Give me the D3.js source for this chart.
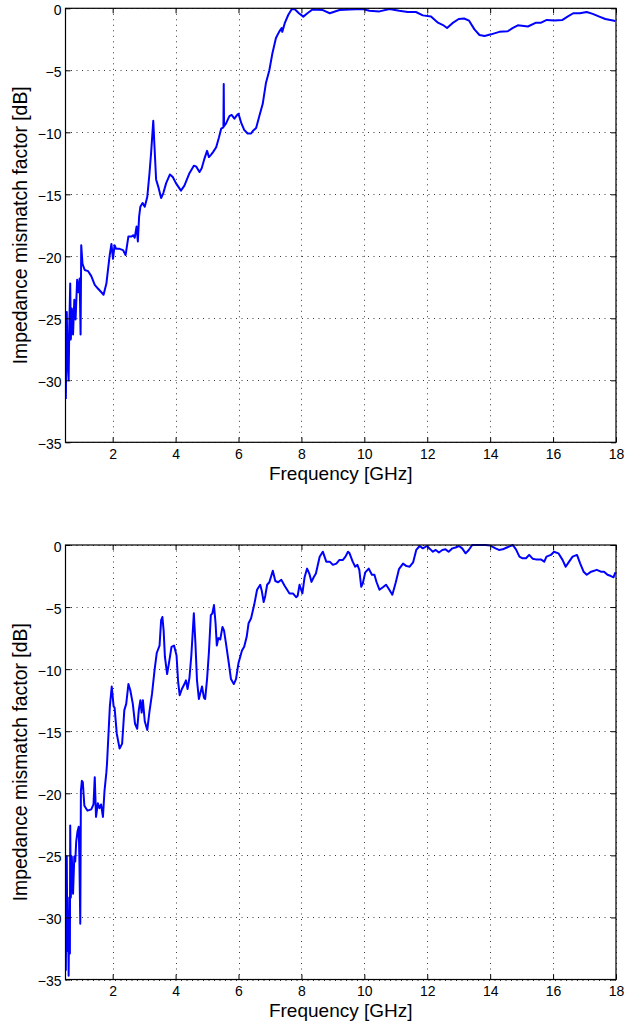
<!DOCTYPE html>
<html>
<head>
<meta charset="utf-8">
<script src="https://cdn.jsdelivr.net/npm/d3@7"></script>
<style>
    body { margin: 0; background: #fff; }
    svg { display: block; }
    text { font-family: "Liberation Sans", Arial, Helvetica, sans-serif; fill: #000; }
</style>
</head>
<body>
<div id="chart"></div>
<script>
// Axis ticks shared by both panels
const freqTicks = [2, 4, 6, 8, 10, 12, 14, 16, 18];
const dbTicks = [0, -5, -10, -15, -20, -25, -30, -35];

// Upper panel
const topFreq = [0.51, 0.54, 0.57, 0.60, 0.62, 0.65, 0.67, 0.70, 0.74, 0.78, 0.82, 0.87, 0.91, 0.95, 0.98,
    1.00, 1.04, 1.11, 1.22, 1.32, 1.43, 1.53, 1.64, 1.71, 1.80, 1.90, 1.96, 2.01, 2.06, 2.11, 2.22, 2.33,
    2.41, 2.50, 2.60, 2.65, 2.70, 2.76, 2.80, 2.84, 2.88, 2.95, 3.02, 3.10, 3.17, 3.22, 3.29, 3.33, 3.38,
    3.45, 3.54, 3.61, 3.70, 3.82, 3.91, 4.01, 4.17, 4.28, 4.44, 4.58, 4.65, 4.76, 4.83, 4.92, 5.00, 5.06,
    5.13, 5.19, 5.29, 5.38, 5.45, 5.52, 5.53, 5.54, 5.60, 5.71, 5.78, 5.87, 5.94, 6.00, 6.08, 6.18, 6.29,
    6.40, 6.47, 6.56, 6.66, 6.77, 6.87, 6.98, 7.08, 7.19, 7.29, 7.37, 7.39, 7.47, 7.58, 7.69, 7.79, 7.92,
    8.06, 8.19, 8.35, 8.68, 8.90, 9.21, 9.53, 9.95, 10.16, 10.48, 10.80, 11.11, 11.38, 11.64, 11.86, 12.12,
    12.34, 12.50, 12.63, 12.80, 13.00, 13.17, 13.33, 13.50, 13.66, 13.82, 14.03, 14.29, 14.56, 14.71, 14.88,
    15.20, 15.46, 15.62, 15.80, 16.04, 16.30, 16.46, 16.64, 16.85, 17.07, 17.26, 17.47, 17.66, 17.98];
const topDb = [-31.5, -24.5, -28.6, -30.0, -25.7, -22.2, -26.7, -24.2, -26.3, -23.5, -25.1, -21.9, -22.9, -21.8, -26.3,
    -19.1, -20.6, -21.1, -21.2, -21.6, -22.3, -22.6, -22.9, -23.1, -22.2, -20.0, -19.0, -20.2, -19.1, -19.4, -19.4, -19.5,
    -19.9, -18.4, -18.4, -18.3, -18.5, -17.6, -18.8, -16.8, -16.0, -15.7, -16.0, -15.2, -13.3, -11.7, -9.07, -11.2, -13.8,
    -14.4, -15.3, -14.9, -14.1, -13.4, -13.6, -14.1, -14.7, -14.3, -13.3, -12.7, -12.75, -13.2, -12.9, -12.1, -11.5, -12.0,
    -11.8, -11.6, -11.2, -10.4, -9.7, -9.6, -6.1, -9.5, -9.3, -8.7, -8.6, -8.9, -8.65, -8.5, -9.2, -9.8, -10.1,
    -10.1, -9.85, -9.65, -8.7, -7.7, -6.05, -5.0, -3.6, -2.4, -1.9, -1.6, -1.9, -1.2, -0.54, -0.08, -0.08, -0.4,
    -0.67, -0.4, -0.1, -0.14, -0.4, -0.14, -0.1, -0.05, -0.2, -0.25, -0.05, -0.2, -0.3, -0.3, -0.57, -0.67,
    -1.16, -1.35, -1.59, -1.2, -0.86, -0.82, -1.0, -1.7, -2.15, -2.23, -2.1, -1.9, -1.85, -1.6, -1.37,
    -1.47, -1.16, -1.16, -0.94, -0.99, -0.94, -0.67, -0.4, -0.4, -0.3, -0.45, -0.67, -0.86, -1.02];

// Lower panel
const bottomFreq = [0.51, 0.54, 0.56, 0.58, 0.60, 0.62, 0.64, 0.65, 0.67, 0.70, 0.74, 0.78, 0.81, 0.84, 0.88, 0.92,
    0.94, 0.97, 0.99, 1.02, 1.05, 1.10, 1.20, 1.32, 1.39, 1.43, 1.47, 1.53, 1.58, 1.63, 1.69, 1.74, 1.80, 1.82,
    1.91, 1.97, 2.03, 2.06, 2.13, 2.22, 2.30, 2.37, 2.43, 2.50, 2.56, 2.64, 2.71, 2.78, 2.83, 2.88, 2.92, 2.96,
    3.02, 3.10, 3.17, 3.25, 3.33, 3.40, 3.49, 3.54, 3.58, 3.62, 3.66, 3.73, 3.79, 3.87, 3.95, 4.03, 4.08, 4.13,
    4.20, 4.28, 4.33, 4.38, 4.44, 4.50, 4.58, 4.63, 4.68, 4.74, 4.79, 4.84, 4.90, 4.94, 5.00, 5.06, 5.12, 5.17,
    5.22, 5.27, 5.31, 5.36, 5.42, 5.49, 5.54, 5.60, 5.69, 5.76, 5.85, 5.92, 6.00, 6.11, 6.18, 6.26, 6.32, 6.40,
    6.50, 6.59, 6.69, 6.74, 6.80, 6.85, 6.91, 6.98, 7.09, 7.17, 7.26, 7.36, 7.47, 7.62, 7.73, 7.83, 7.88, 7.94,
    8.03, 8.10, 8.18, 8.25, 8.32, 8.39, 8.46, 8.58, 8.68, 8.79, 8.90, 9.00, 9.11, 9.21, 9.32, 9.40, 9.48, 9.53,
    9.63, 9.71, 9.78, 9.84, 9.90, 9.95, 10.03, 10.14, 10.24, 10.32, 10.39, 10.48, 10.59, 10.69, 10.77, 10.89,
    11.00, 11.10, 11.23, 11.34, 11.44, 11.55, 11.65, 11.76, 11.86, 11.99, 12.10, 12.18, 12.27, 12.37, 12.48,
    12.58, 12.68, 12.80, 12.90, 13.01, 13.11, 13.22, 13.32, 13.43, 13.64, 13.85, 14.01, 14.17, 14.28, 14.40,
    14.53, 14.72, 14.82, 14.93, 15.03, 15.14, 15.24, 15.35, 15.45, 15.61, 15.72, 15.79, 15.93, 16.03, 16.17,
    16.30, 16.40, 16.51, 16.62, 16.76, 16.86, 16.97, 17.07, 17.21, 17.39, 17.52, 17.62, 17.73, 17.84, 17.92, 17.98];
const bottomDb = [-34.3, -25.1, -32.7, -29.5, -34.7, -28.4, -32.9, -22.6, -28.4, -25.1, -28.1, -25.1, -25.5, -23.9, -23.1, -22.7,
    -25.1, -30.5, -19.8, -19.0, -19.1, -21.0, -21.4, -21.3, -20.9, -18.7, -21.9, -20.8, -21.2, -20.9, -21.9, -19.8, -18.3, -17.6,
    -13.0, -11.4, -13.0, -13.1, -15.2, -16.4, -16.0, -13.3, -12.8, -11.2, -11.7, -12.8, -14.4, -14.8, -13.3, -12.5, -13.5, -12.5,
    -14.2, -14.9, -13.4, -12.0, -10.1, -8.7, -8.1, -6.05, -5.8, -6.9, -9.0, -10.4, -9.5, -8.2, -8.1, -8.9, -11.0, -12.1,
    -11.6, -11.2, -10.9, -11.6, -10.7, -8.9, -5.5, -7.9, -10.9, -12.4, -11.9, -11.4, -12.3, -12.4, -10.8, -8.6, -5.65, -5.5,
    -4.84, -6.3, -8.1, -7.5, -7.6, -6.6, -6.9, -7.9, -9.5, -10.8, -11.2, -10.8, -9.5, -8.5, -8.2, -7.4, -6.3, -5.9,
    -4.8, -3.6, -3.2, -3.7, -4.6, -4.1, -3.2, -3.0, -2.07, -2.9, -3.0, -2.8, -3.3, -3.9, -3.9, -4.2, -4.1, -3.2,
    -3.9, -2.6, -1.9, -2.3, -2.97, -2.6, -2.3, -0.94, -0.54, -1.34, -1.34, -1.6, -1.5, -1.2, -1.2, -0.94, -0.54, -0.67,
    -1.34, -1.75, -1.6, -2.0, -3.36, -3.1, -2.2, -1.9, -2.4, -2.4, -3.0, -3.6, -3.4, -3.2, -3.5, -4.0,
    -3.0, -1.95, -1.5, -1.7, -1.75, -1.4, -0.4, -0.08, -0.27, -0.08, -0.35, -0.54, -0.4, -0.6, -0.4,
    -0.35, -0.54, -0.27, -0.2, -0.08, -0.27, -0.67, -0.4, 0, 0, 0, -0.05, -0.27, -0.4, -0.35,
    -0.2, 0, -0.35, -0.94, -1.07, -1.07, -0.8, -1.1, -1.16, -1.16, -1.34, -0.94, -0.8, -0.54, -0.67,
    -1.2, -1.75, -1.34, -0.94, -0.8, -1.48, -2.15, -2.4, -2.15, -2.0, -2.15, -2.15, -2.4, -2.5, -2.6, -2.2];

const xLabel = 'Frequency [GHz]';
const yLabel = 'Impedance mismatch factor [dB]';

const width = 625;
const height = 1022;
const plotLeft = 65.5;
const plotRight = 616;

const panels = [
    { top: 8.3, bottom: 442.3, freq: topFreq, db: topDb },
    { top: 545, bottom: 979.5, freq: bottomFreq, db: bottomDb }
];

const svg = d3.select('#chart')
    .append('svg')
    .attr('width', width)
    .attr('height', height);

const x = d3.scaleLinear().domain([0.5, 18]).range([plotLeft, plotRight]);

panels.forEach((p, i) => {
    const y = d3.scaleLinear().domain([-35, 0]).range([p.bottom, p.top]);
    const g = svg.append('g');
    const h = p.bottom - p.top;
    const w = plotRight - plotLeft;

    // dotted grid
    g.append('g')
        .selectAll('line')
        .data(freqTicks)
        .enter()
        .append('line')
        .attr('x1', d => Math.round(x(d)) + 0.5)
        .attr('x2', d => Math.round(x(d)) + 0.5)
        .attr('y1', p.top)
        .attr('y2', p.bottom)
        .attr('stroke', '#3a3a3a')
        .attr('stroke-width', 1)
        .attr('stroke-dasharray', '1,4.5');

    g.append('g')
        .selectAll('line')
        .data(dbTicks)
        .enter()
        .append('line')
        .attr('x1', plotLeft)
        .attr('x2', plotRight)
        .attr('y1', d => Math.round(y(d)) + 0.5)
        .attr('y2', d => Math.round(y(d)) + 0.5)
        .attr('stroke', '#3a3a3a')
        .attr('stroke-width', 1)
        .attr('stroke-dasharray', '1,4.5');

    // data line
    const clipId = 'clip' + i;
    svg.append('clipPath')
        .attr('id', clipId)
        .append('rect')
        .attr('x', plotLeft)
        .attr('y', p.top - 1)
        .attr('width', w)
        .attr('height', h + 1);

    const points = p.freq.map((f, k) => [f, p.db[k]]);
    g.append('path')
        .datum(points)
        .attr('clip-path', `url(#${clipId})`)
        .attr('fill', 'none')
        .attr('stroke', '#0000ff')
        .attr('stroke-width', 2)
        .attr('stroke-linejoin', 'round')
        .attr('d', d3.line().x(d => x(d[0])).y(d => y(d[1])));

    // axes, ticks point inward on all four sides
    const fmt = d3.format('d');
    g.append('g')
        .attr('transform', `translate(0,${p.bottom})`)
        .call(d3.axisBottom(x).tickValues(freqTicks).tickFormat(fmt).tickSizeInner(-5).tickSizeOuter(0).tickPadding(7));
    const leftAxis = g.append('g')
        .attr('transform', `translate(${plotLeft},0)`)
        .call(d3.axisLeft(y).tickValues(dbTicks).tickFormat(fmt).tickSizeInner(-5).tickSizeOuter(0).tickPadding(4));
    g.append('g')
        .attr('transform', `translate(0,${p.top})`)
        .call(d3.axisTop(x).tickValues(freqTicks).tickFormat('').tickSizeInner(-5).tickSizeOuter(0));
    g.append('g')
        .attr('transform', `translate(${plotRight},0)`)
        .call(d3.axisRight(y).tickValues(dbTicks).tickFormat('').tickSizeInner(-5).tickSizeOuter(0));

    g.selectAll('.domain').remove();
    g.selectAll('.tick line').attr('stroke', '#000');
    g.selectAll('.tick text')
        .attr('font-size', '14px')
        .attr('font-family', '"Liberation Sans", Arial, sans-serif');
    leftAxis.selectAll('.tick text').attr('dy', '0.43em');

    // box
    g.append('rect')
        .attr('x', plotLeft)
        .attr('y', p.top)
        .attr('width', w)
        .attr('height', h)
        .attr('fill', 'none')
        .attr('stroke', '#000')
        .attr('stroke-width', 1.2);

    // axis titles
    g.append('text')
        .attr('x', (plotLeft + plotRight) / 2)
        .attr('y', p.bottom + 37.5)
        .attr('text-anchor', 'middle')
        .attr('font-size', '19px')
        .text(xLabel);

    g.append('text')
        .attr('transform', `translate(27,${(p.top + p.bottom) / 2}) rotate(-90)`)
        .attr('text-anchor', 'middle')
        .attr('font-size', '19.4px')
        .text(yLabel);
});
</script>
</body>
</html>
